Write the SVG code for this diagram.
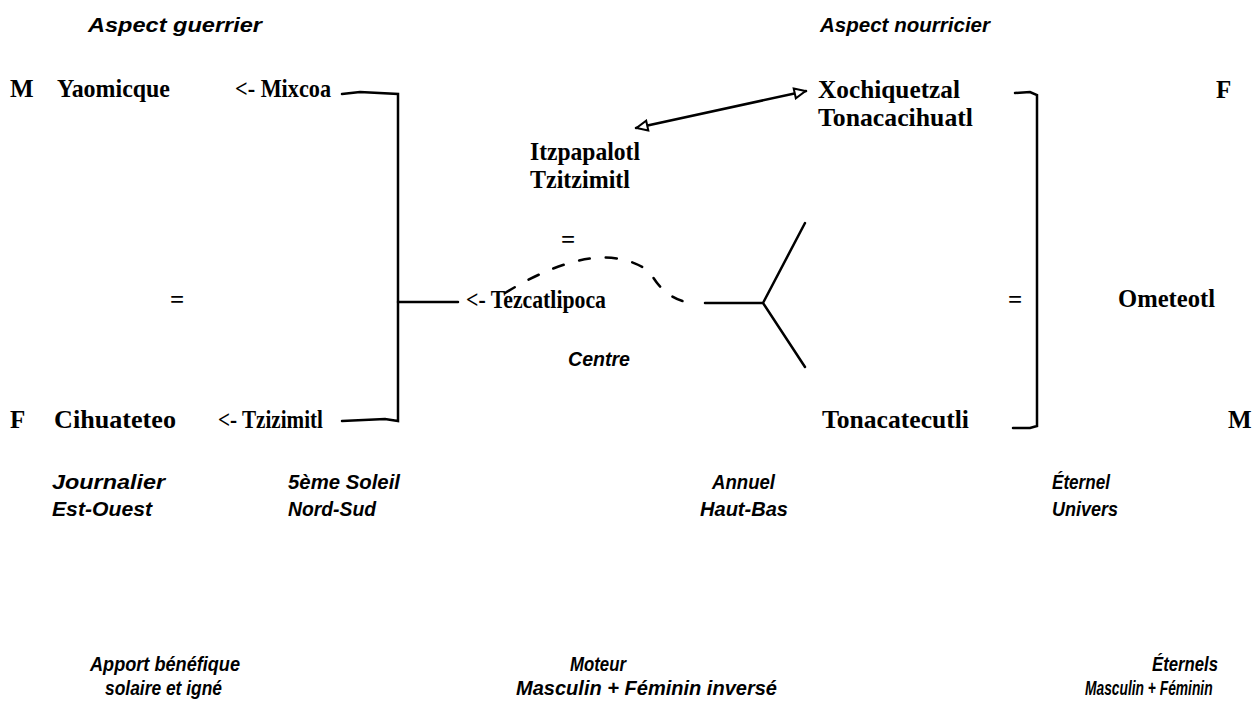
<svg xmlns="http://www.w3.org/2000/svg" width="1254" height="706" viewBox="0 0 1254 706">
<style>
.n{font-family:"Liberation Serif",serif;font-weight:bold;font-size:25px;fill:#000}
.i{font-family:"Liberation Sans",sans-serif;font-style:italic;font-weight:bold;font-size:21px;fill:#000}
.ln{stroke:#000;stroke-width:2.5;fill:none;stroke-linecap:round}
</style>
<defs>
<marker id="tri" viewBox="0 0 14 14" refX="13" refY="7" markerWidth="14" markerHeight="14" markerUnits="userSpaceOnUse" orient="auto-start-reverse">
<path d="M1.5,2 L12.5,7 L1.5,12 Z" fill="#fff" stroke="#000" stroke-width="2"/>
</marker>
</defs>
<rect width="1254" height="706" fill="#fff"/>
<g id="headers">
<text class="i" x="88" y="32" textLength="174" lengthAdjust="spacingAndGlyphs">Aspect guerrier</text>
<text class="i" x="820" y="32" textLength="170" lengthAdjust="spacingAndGlyphs">Aspect nourricier</text>
</g>
<g id="left-top">
<text class="n" x="10" y="97">M</text>
<text class="n" x="57" y="97" textLength="113" lengthAdjust="spacingAndGlyphs">Yaomicque</text>
<text class="n" x="235" y="97" textLength="96" lengthAdjust="spacingAndGlyphs">&lt;- Mixcoa</text>
</g>
<g id="left-bottom">
<text class="n" x="10" y="428">F</text>
<text class="n" x="54" y="428" textLength="122" lengthAdjust="spacingAndGlyphs">Cihuateteo</text>
<text class="n" x="218" y="428" textLength="105" lengthAdjust="spacingAndGlyphs">&lt;- Tzizimitl</text>
</g>
<g id="left-eq"><text class="n" x="170" y="308">=</text></g>
<g id="itzpapalotl">
<text class="n" x="530" y="160" textLength="110" lengthAdjust="spacingAndGlyphs">Itzpapalotl</text>
<text class="n" x="530" y="188" textLength="100" lengthAdjust="spacingAndGlyphs">Tzitzimitl</text>
</g>
<g id="mid-eq"><text class="n" x="561" y="248">=</text></g>
<g id="tezcatlipoca"><text class="n" x="466" y="308" textLength="140" lengthAdjust="spacingAndGlyphs">&lt;- Tezcatlipoca</text></g>
<g id="centre"><text class="i" x="568" y="366" textLength="62" lengthAdjust="spacingAndGlyphs">Centre</text></g>
<g id="xochiquetzal">
<text class="n" x="818" y="98" textLength="142" lengthAdjust="spacingAndGlyphs">Xochiquetzal</text>
<text class="n" x="818" y="126" textLength="155" lengthAdjust="spacingAndGlyphs">Tonacacihuatl</text>
</g>
<g id="right-eq"><text class="n" x="1008" y="308">=</text></g>
<g id="tonacatecutli"><text class="n" x="822" y="428" textLength="147" lengthAdjust="spacingAndGlyphs">Tonacatecutli</text></g>
<g id="ometeotl">
<text class="n" x="1118" y="307" textLength="97" lengthAdjust="spacingAndGlyphs">Ometeotl</text>
<text class="n" x="1216" y="98">F</text>
<text class="n" x="1228" y="428">M</text>
</g>
<g id="row1">
<text class="i" x="52" y="489" textLength="113" lengthAdjust="spacingAndGlyphs">Journalier</text>
<text class="i" x="52" y="516" textLength="100" lengthAdjust="spacingAndGlyphs">Est-Ouest</text>
<text class="i" x="288" y="489" textLength="112" lengthAdjust="spacingAndGlyphs">5ème Soleil</text>
<text class="i" x="288" y="516" textLength="88" lengthAdjust="spacingAndGlyphs">Nord-Sud</text>
<text class="i" x="712" y="489" textLength="63" lengthAdjust="spacingAndGlyphs">Annuel</text>
<text class="i" x="700" y="516" textLength="88" lengthAdjust="spacingAndGlyphs">Haut-Bas</text>
<text class="i" x="1052" y="489" textLength="58" lengthAdjust="spacingAndGlyphs">Éternel</text>
<text class="i" x="1052" y="516" textLength="66" lengthAdjust="spacingAndGlyphs">Univers</text>
</g>
<g id="row2">
<text class="i" x="90" y="671" textLength="150" lengthAdjust="spacingAndGlyphs">Apport bénéfique</text>
<text class="i" x="105" y="695" textLength="117" lengthAdjust="spacingAndGlyphs">solaire et igné</text>
<text class="i" x="570" y="671" textLength="56" lengthAdjust="spacingAndGlyphs">Moteur</text>
<text class="i" x="516" y="695" textLength="261" lengthAdjust="spacingAndGlyphs">Masculin + Féminin inversé</text>
<text class="i" x="1152" y="671" textLength="66" lengthAdjust="spacingAndGlyphs">Éternels</text>
<text class="i" transform="translate(1085,695) scale(0.69,1)" x="0" y="0" style="font-size:20px">Masculin + Féminin</text>
</g>
<g id="connectors">
<path class="ln" d="M342,94 L360,92 L398,94 L398,421 L385,419 L342,421"/>
<path class="ln" d="M398,302 L458,302"/>
<path class="ln" d="M1015,93 L1030,92 L1037,95 L1037,426 L1030,428 L1013,428"/>
<path class="ln" d="M636,128 L806,91" marker-start="url(#tri)" marker-end="url(#tri)"/>
<path class="ln" d="M505,293 Q600,235 650,272 Q665,300 692,303" stroke-dasharray="11,16"/>
<path class="ln" d="M705,303 L763,303 M763,303 L805,223 M763,303 L805,367"/>
</g>
</svg>
